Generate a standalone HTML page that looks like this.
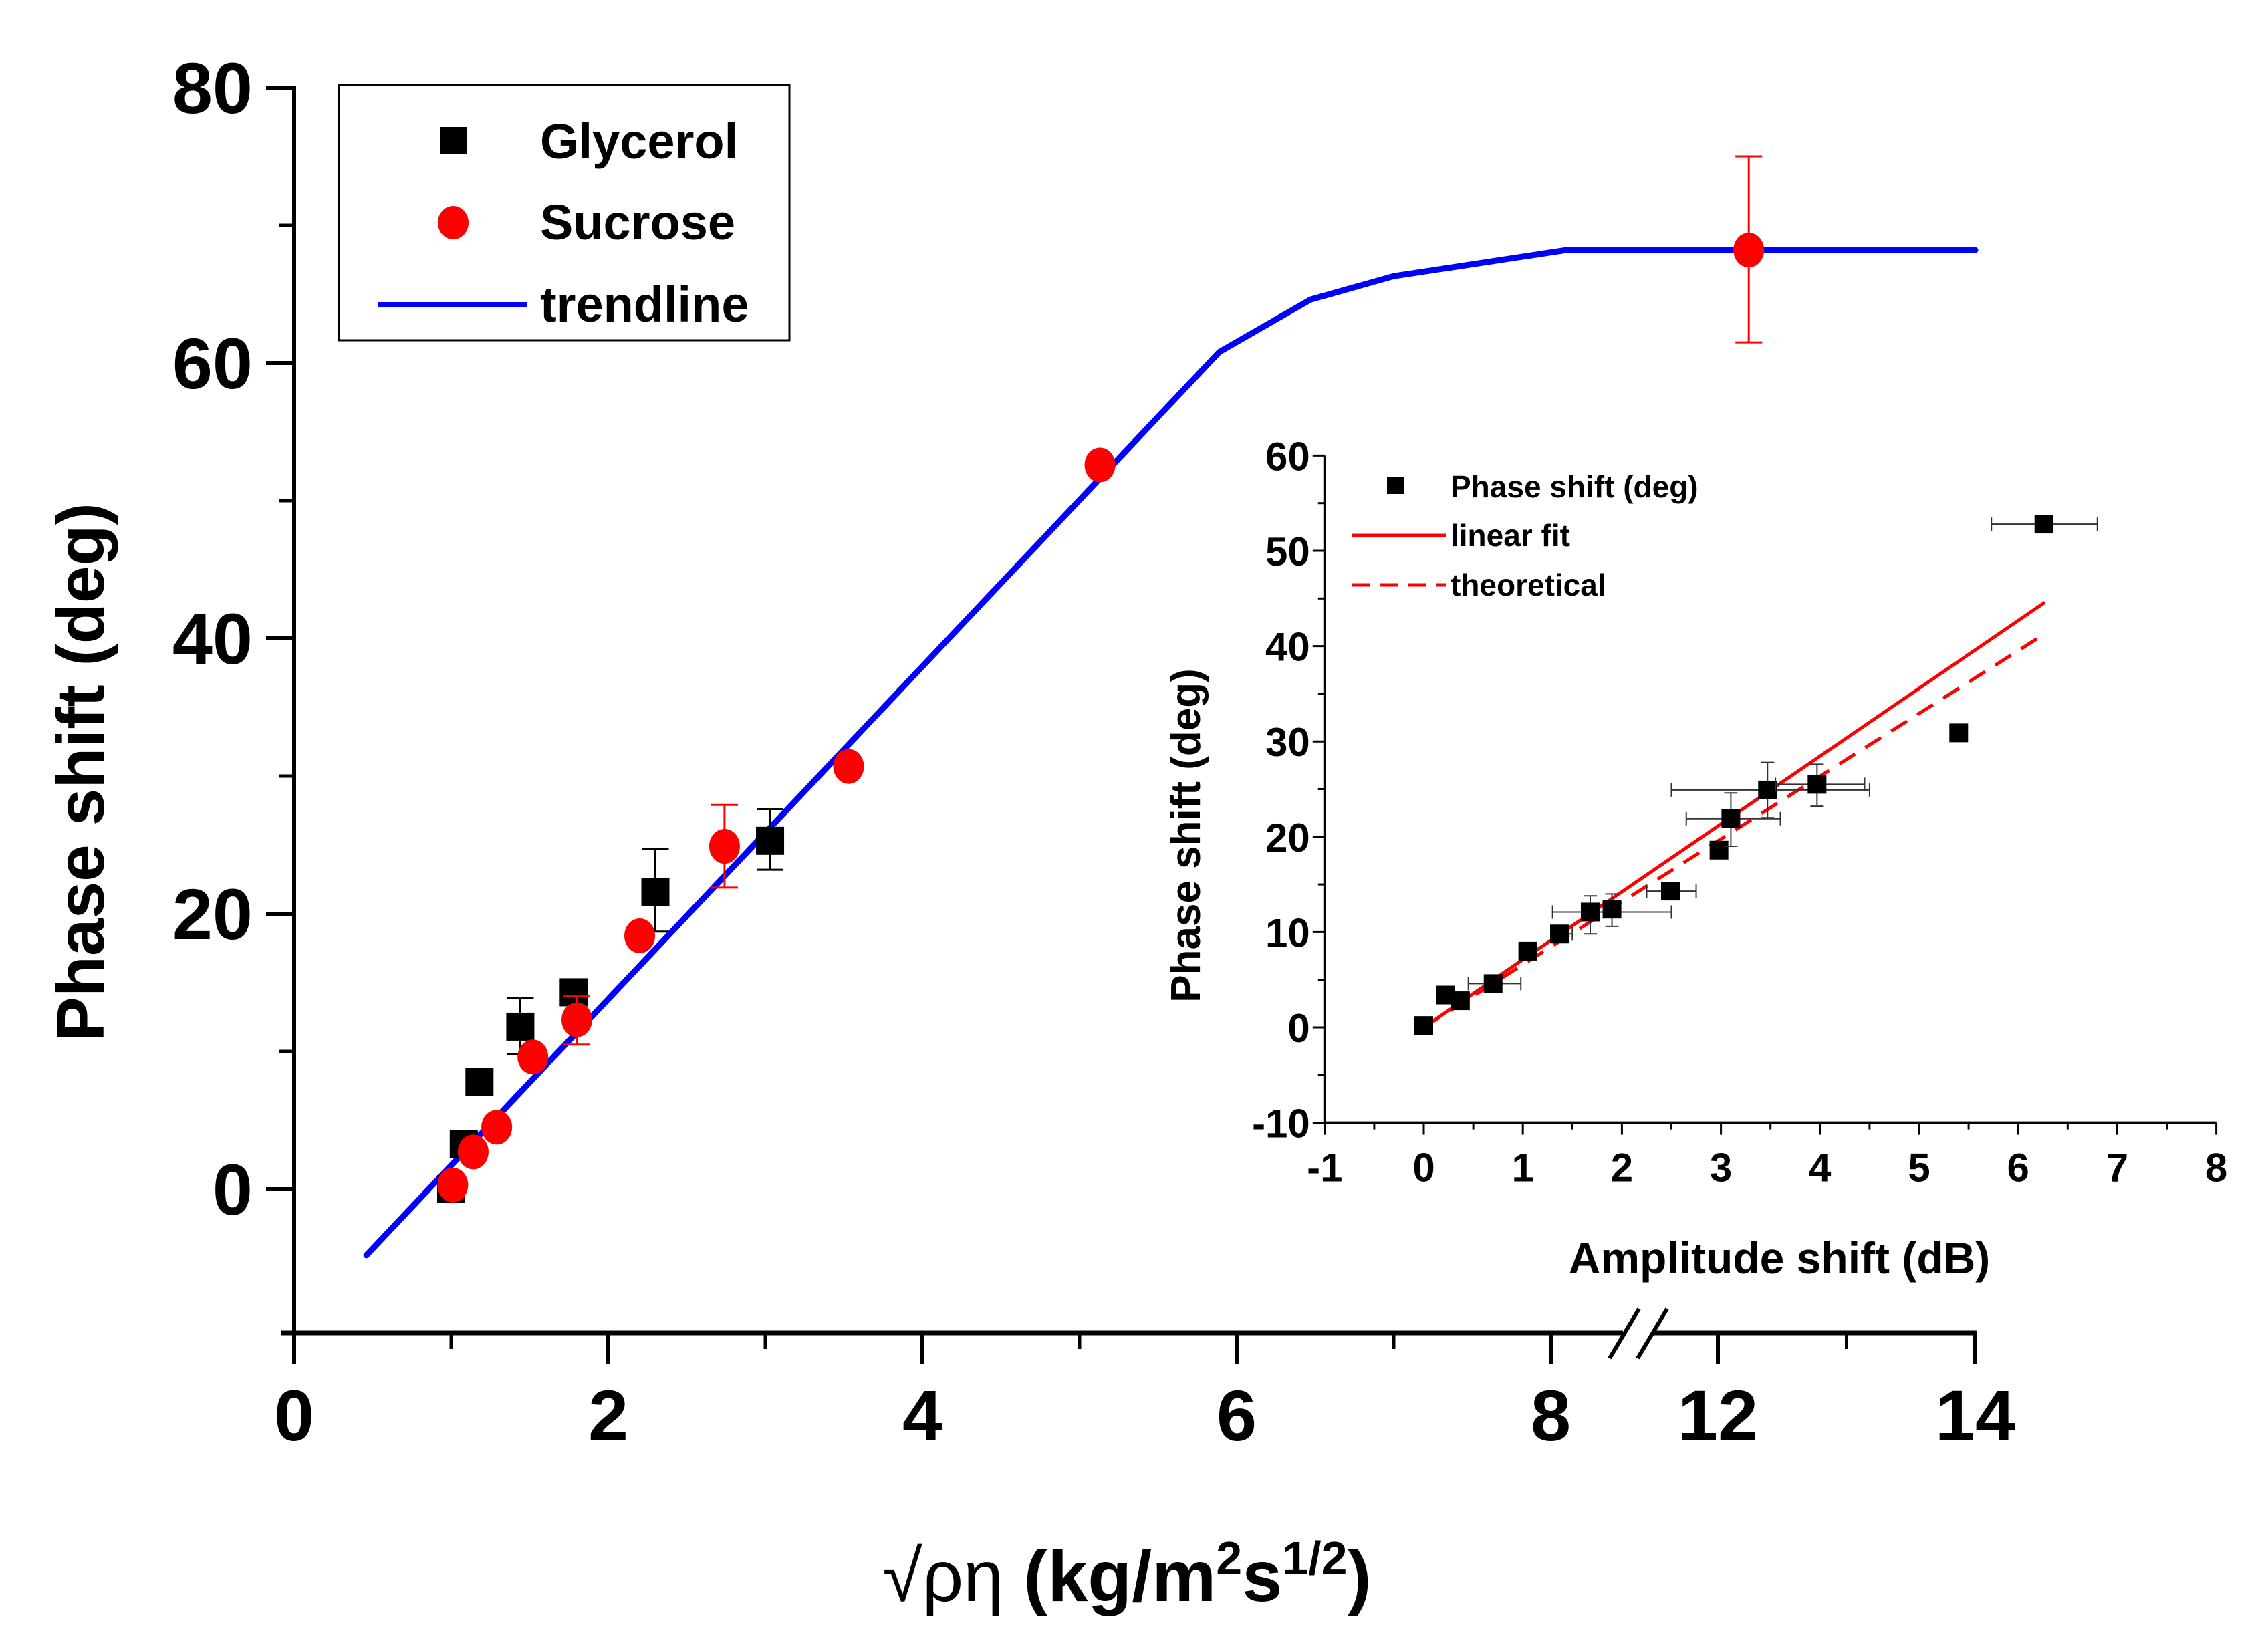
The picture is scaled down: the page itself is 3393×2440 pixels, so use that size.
<!DOCTYPE html>
<html><head><meta charset="utf-8"><style>
html,body{margin:0;padding:0;background:#fff}
svg{display:block}
text{font-family:"Liberation Sans",sans-serif;font-weight:bold;fill:#000}
</style></head><body>
<svg id="chart" width="3393" height="2440" viewBox="0 0 3393 2440" xmlns="http://www.w3.org/2000/svg">
<g id="main"></g>
<g id="inset"></g>
</svg>
<script>
// ---- main chart data ----
const glyX = [1.0, 1.08, 1.18, 1.44, 1.78, 2.30, 3.03];
const glyY = [0.0, 3.3, 7.8, 11.8, 14.3, 21.6, 25.3];
const glyErrLo = [null, null, null, 9.8, null, 18.7, 23.2];
const glyErrHi = [null, null, null, 13.9, null, 24.7, 27.6];
const sucX = [1.01, 1.14, 1.29, 1.52, 1.80, 2.20, 2.74, 3.53, 5.13, 12.24];
const sucY = [0.3, 2.7, 4.5, 9.6, 12.3, 18.4, 24.9, 30.7, 52.6, 68.2];
const sucErrLo = [null, null, null, null, 10.5, null, 21.9, null, null, 61.5];
const sucErrHi = [null, null, null, null, 14.0, null, 27.9, null, null, 75.0];
const trendX = [0.46, 5.89, 6.47, 7.0, 8.1, 12.0, 14.0];
const trendY = [-4.8, 60.8, 64.6, 66.3, 68.2, 68.2, 68.2];
const mainYTicks = [0, 20, 40, 60, 80];
const mainXTicks = [0, 2, 4, 6, 8, 12, 14];
const mainXMinor = [1, 3, 5, 7, 13];
// ---- inset data ----
const inX = [0, 0.22, 0.37, 0.70, 1.05, 1.37, 1.68, 1.90, 2.49, 2.98, 3.10, 3.47, 3.97, 5.40, 6.26];
const inY = [0.2, 3.4, 2.8, 4.6, 8.0, 9.8, 12.1, 12.4, 14.3, 18.6, 21.9, 24.9, 25.5, 30.9, 52.8];
const inXErrLo = [null, null, null, 0.45, null, 1.30, 1.30, null, 2.25, null, 2.65, 2.50, 3.55, null, 5.73];
const inXErrHi = [null, null, null, 0.98, null, 1.50, 2.50, null, 2.75, null, 3.60, 4.50, 4.45, null, 6.80];
const inYErrLo = [null, null, null, null, null, null, 9.8, 10.6, null, null, 19.0, 22.0, 23.2, null, null];
const inYErrHi = [null, null, null, null, null, null, 13.8, 14.0, null, null, 24.6, 27.8, 27.6, null, null];
const fitX = [0, 6.27];
const fitY = [0, 44.6];
const theoX = [0, 6.27];
const theoY = [0, 41.3];
const inYTicks = [-10, 0, 10, 20, 30, 40, 50, 60];
const inXTicks = [-1, 0, 1, 2, 3, 4, 5, 6, 7, 8];

const NS = "http://www.w3.org/2000/svg";
function mk(parent, tag, attrs, txt) {
  const e = document.createElementNS(NS, tag);
  for (const k in attrs) e.setAttribute(k, attrs[k]);
  if (txt !== undefined) e.textContent = txt;
  parent.appendChild(e);
  return e;
}
// main scales
const X = v => v <= 9 ? 440 + 235 * v : 2570 + 192.5 * (v - 12);
const Y = v => 1779 - 20.6 * v;
const M = document.getElementById('main');

// axes
let e;
e = mk(M, 'line', {x1: 440, y1: 128, x2: 440, y2: 1994, stroke: '#000', 'stroke-width': 6});
 
e = mk(M, 'line', {x1: 420, y1: 1994, x2: 2958, y2: 1994, stroke: '#000', 'stroke-width': 7});
 
// break marks
e = mk(M, 'g', {});
 
mk(e, 'rect', {x: 2428, y: 1970, width: 44, height: 50, fill: '#fff'});
mk(e, 'line', {x1: 2408, y1: 2032, x2: 2452, y2: 1958, stroke: '#000', 'stroke-width': 6});
mk(e, 'line', {x1: 2450, y1: 2032, x2: 2494, y2: 1958, stroke: '#000', 'stroke-width': 6});

for (const t of mainYTicks) {
  e = mk(M, 'line', {x1: 398, y1: Y(t), x2: 440, y2: Y(t), stroke: '#000', 'stroke-width': 6});
   
  e = mk(M, 'text', {x: 378, y: Y(t) + 38, 'text-anchor': 'end', 'font-size': 108}, String(t));
   
}
for (const t of [10, 30, 50, 70]) {
  e = mk(M, 'line', {x1: 418, y1: Y(t), x2: 440, y2: Y(t), stroke: '#000', 'stroke-width': 5});
   
}
for (const t of mainXTicks) {
  e = mk(M, 'line', {x1: X(t), y1: 1994, x2: X(t), y2: 2040, stroke: '#000', 'stroke-width': 6});
   
  e = mk(M, 'text', {x: X(t), y: 2155, 'text-anchor': 'middle', 'font-size': 108}, String(t));
   
}
for (const t of mainXMinor) {
  e = mk(M, 'line', {x1: X(t), y1: 1994, x2: X(t), y2: 2018, stroke: '#000', 'stroke-width': 5});
   
}
e = mk(M, 'text', {x: 0, y: 0, 'text-anchor': 'middle', 'font-size': 100, transform: 'translate(155,1155) rotate(-90)'}, 'Phase shift (deg)');
 
e = mk(M, 'text', {x: 1686, y: 2395, 'text-anchor': 'middle', 'font-size': 108});
 
e.innerHTML = '<tspan style="font-weight:normal">\u221A\u03C1\u03B7</tspan> (kg/m<tspan dy="-40" font-size="70">2</tspan><tspan dy="40">s</tspan><tspan dy="-40" font-size="70">1/2</tspan><tspan dy="40">)</tspan>';

// trendline
let d = trendX.map((x, i) => (i ? 'L' : 'M') + X(x) + ' ' + Y(trendY[i])).join(' ');
e = mk(M, 'path', {d: d, fill: 'none', stroke: '#0000ff', 'stroke-width': 9, 'stroke-linejoin': 'round', 'stroke-linecap': 'round'});
 

// glycerol
glyX.forEach((x, i) => {
  if (glyErrLo[i] !== null) {
    e = mk(M, 'path', {d: `M${X(x)} ${Y(glyErrLo[i])}V${Y(glyErrHi[i])}M${X(x)-20} ${Y(glyErrLo[i])}h40M${X(x)-20} ${Y(glyErrHi[i])}h40`, stroke: '#000', 'stroke-width': 3, fill: 'none'});
     
  }
  e = mk(M, 'rect', {x: X(x) - 21, y: Y(glyY[i]) - 21, width: 42, height: 42, fill: '#000'});
   
});
// sucrose
sucX.forEach((x, i) => {
  if (sucErrLo[i] !== null) {
    e = mk(M, 'path', {d: `M${X(x)} ${Y(sucErrLo[i])}V${Y(sucErrHi[i])}M${X(x)-20} ${Y(sucErrLo[i])}h40M${X(x)-20} ${Y(sucErrHi[i])}h40`, stroke: '#ff0000', 'stroke-width': 3, fill: 'none'});
     
  }
  e = mk(M, 'ellipse', {cx: X(x), cy: Y(sucY[i]), rx: 23, ry: 26, fill: '#ff0000'});
   
});

// legend
const L = mk(M, 'g', {});
 
mk(L, 'rect', {x: 507, y: 127, width: 674, height: 382, fill: '#fff', stroke: '#000', 'stroke-width': 3});
e = mk(L, 'rect', {x: 658, y: 190, width: 40, height: 40, fill: '#000'});
 
e = mk(L, 'text', {x: 808, y: 237, 'font-size': 74}, 'Glycerol');
 
e = mk(L, 'ellipse', {cx: 678, cy: 333, rx: 23, ry: 25, fill: '#ff0000'});
 
e = mk(L, 'text', {x: 808, y: 358, 'font-size': 74}, 'Sucrose');
 
e = mk(L, 'line', {x1: 565, y1: 456, x2: 788, y2: 456, stroke: '#0000ff', 'stroke-width': 8});
 
e = mk(L, 'text', {x: 808, y: 481, 'font-size': 74}, 'trendline');
 

// ---- inset ----
const I = document.getElementById('inset');
const IX = v => 2130 + 148.2 * v;
const IY = v => 1537 - 14.26 * v;
e = mk(I, 'path', {d: `M${IX(-1)} ${IY(60)}V${IY(-10)}H${IX(8)}`, fill: 'none', stroke: '#000', 'stroke-width': 4});
 
for (const t of inYTicks) {
  e = mk(I, 'line', {x1: IX(-1) - 18, y1: IY(t), x2: IX(-1), y2: IY(t), stroke: '#000', 'stroke-width': 3});
   
  e = mk(I, 'text', {x: IX(-1) - 22, y: IY(t) + 22, 'text-anchor': 'end', 'font-size': 60}, String(t));
   
  if (t < 60) {
    e = mk(I, 'line', {x1: IX(-1) - 10, y1: IY(t + 5), x2: IX(-1), y2: IY(t + 5), stroke: '#000', 'stroke-width': 3});
     
  }
}
for (const t of inXTicks) {
  e = mk(I, 'line', {x1: IX(t), y1: IY(-10), x2: IX(t), y2: IY(-10) + 18, stroke: '#000', 'stroke-width': 3});
   
  e = mk(I, 'text', {x: IX(t), y: IY(-10) + 88, 'text-anchor': 'middle', 'font-size': 60}, String(t));
   
  if (t < 8) {
    e = mk(I, 'line', {x1: IX(t + 0.5), y1: IY(-10), x2: IX(t + 0.5), y2: IY(-10) + 10, stroke: '#000', 'stroke-width': 3});
     
  }
}
e = mk(I, 'text', {x: 0, y: 0, 'text-anchor': 'middle', 'font-size': 62, transform: 'translate(1795,1250) rotate(-90)'}, 'Phase shift (deg)');
 
e = mk(I, 'text', {x: 2662, y: 1905, 'text-anchor': 'middle', 'font-size': 66}, 'Amplitude shift (dB)');
 

e = mk(I, 'line', {x1: IX(fitX[0]), y1: IY(fitY[0]), x2: IX(fitX[1]), y2: IY(fitY[1]), stroke: '#ff0000', 'stroke-width': 5});
 
e = mk(I, 'line', {x1: IX(theoX[0]), y1: IY(theoY[0]), x2: IX(theoX[1]), y2: IY(theoY[1]), stroke: '#ff0000', 'stroke-width': 5, 'stroke-dasharray': '28 18'});
 

inX.forEach((x, i) => {
  const cx = IX(x), cy = IY(inY[i]);
  if (inXErrLo[i] !== null) {
    e = mk(I, 'path', {d: `M${IX(inXErrLo[i])} ${cy}H${IX(inXErrHi[i])}M${IX(inXErrLo[i])} ${cy-10}v20M${IX(inXErrHi[i])} ${cy-10}v20`, stroke: '#333', 'stroke-width': 2, fill: 'none'});
     
  }
  if (inYErrLo[i] !== null) {
    e = mk(I, 'path', {d: `M${cx} ${IY(inYErrLo[i])}V${IY(inYErrHi[i])}M${cx-10} ${IY(inYErrLo[i])}h20M${cx-10} ${IY(inYErrHi[i])}h20`, stroke: '#333', 'stroke-width': 2, fill: 'none'});
     
  }
  e = mk(I, 'rect', {x: cx - 14, y: cy - 14, width: 28, height: 28, fill: '#000'});
   
});

const IL = mk(I, 'g', {});
 
e = mk(IL, 'rect', {x: 2075, y: 713, width: 26, height: 26, fill: '#000'});
 
e = mk(IL, 'text', {x: 2170, y: 744, 'font-size': 46}, 'Phase shift (deg)');
 
e = mk(IL, 'line', {x1: 2023, y1: 801, x2: 2163, y2: 801, stroke: '#ff0000', 'stroke-width': 5});
 
e = mk(IL, 'text', {x: 2170, y: 817, 'font-size': 46}, 'linear fit');
 
e = mk(IL, 'line', {x1: 2023, y1: 875, x2: 2163, y2: 875, stroke: '#ff0000', 'stroke-width': 5, 'stroke-dasharray': '26 16'});
 
e = mk(IL, 'text', {x: 2170, y: 891, 'font-size': 46}, 'theoretical');
 
</script>
</body></html>
